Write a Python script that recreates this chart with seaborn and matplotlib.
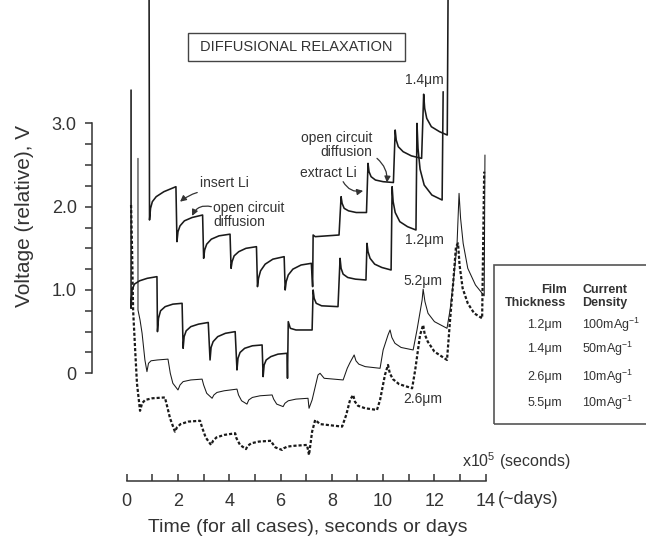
import numpy as np
import pandas as pd
import matplotlib
matplotlib.use("Agg")
import matplotlib.pyplot as plt
from matplotlib.patches import Rectangle
import seaborn as sns

# voltage traces (time in 1e5 s / days, voltage relative)
t_14 = [0.87, 0.89, 0.93, 1.00, 1.15, 1.45, 1.92,
        1.96, 2.00, 2.08, 2.25, 2.55, 2.96,
        3.00, 3.04, 3.12, 3.30, 3.60, 4.03,
        4.07, 4.11, 4.19, 4.37, 4.65, 5.06,
        5.10, 5.14, 5.22, 5.40, 5.70, 6.14,
        6.18, 6.22, 6.30, 6.48, 6.80, 7.20,
        7.25, 7.27, 7.35, 8.28,
        8.36, 8.40, 8.48, 8.65, 8.95, 9.35,
        9.41, 9.45, 9.53, 9.70, 10.00, 10.40,
        10.47, 10.51, 10.59, 10.78, 11.10, 11.50,
        11.58, 11.62, 11.70, 11.88, 12.20, 12.50, 12.54]
v_14 = [5.00, 1.84, 1.98, 2.06, 2.12, 2.18, 2.24,
        1.58, 1.70, 1.77, 1.83, 1.87, 1.90,
        1.38, 1.48, 1.55, 1.61, 1.65, 1.67,
        1.26, 1.34, 1.41, 1.46, 1.50, 1.52,
        1.04, 1.14, 1.23, 1.31, 1.37, 1.40,
        1.00, 1.10, 1.18, 1.25, 1.30, 1.32,
        1.04, 1.66, 1.64, 1.66,
        2.12, 2.04, 1.98, 1.95, 1.93, 1.93,
        2.52, 2.42, 2.36, 2.32, 2.30, 2.29,
        2.92, 2.80, 2.72, 2.66, 2.61, 2.58,
        3.35, 3.18, 3.06, 2.96, 2.90, 2.86, 5.00]

t_12 = [0.17, 0.17, 0.21, 0.30, 0.50, 0.80, 1.18,
        1.20, 1.24, 1.32, 1.50, 1.80, 2.16,
        2.20, 2.24, 2.32, 2.50, 2.80, 3.18,
        3.25, 3.29, 3.37, 3.55, 3.85, 4.23,
        4.30, 4.34, 4.42, 4.60, 4.90, 5.28,
        5.32, 5.36, 5.44, 5.62, 5.90, 6.25,
        6.27, 6.30, 6.38, 6.60, 7.23,
        7.27, 7.31, 7.39, 7.60, 8.24,
        8.32, 8.36, 8.44, 8.62, 8.92, 9.33,
        9.37, 9.41, 9.49, 9.67, 9.95, 10.31,
        10.35, 10.39, 10.47, 10.65, 10.95, 11.28,
        11.32, 11.36, 11.44, 11.60, 11.90, 12.30, 12.34]
v_12 = [3.40, 0.78, 1.00, 1.07, 1.11, 1.14, 1.16,
        0.50, 0.66, 0.75, 0.80, 0.83, 0.84,
        0.30, 0.44, 0.51, 0.56, 0.59, 0.61,
        0.16, 0.31, 0.38, 0.44, 0.48, 0.50,
        0.04, 0.18, 0.25, 0.30, 0.33, 0.34,
        -0.04, 0.10, 0.16, 0.20, 0.23, 0.24,
        -0.06, 0.62, 0.54, 0.52, 0.52,
        1.00, 0.90, 0.84, 0.81, 0.80,
        1.38, 1.26, 1.19, 1.15, 1.13, 1.12,
        1.56, 1.46, 1.38, 1.31, 1.27, 1.24,
        2.24, 2.06, 1.93, 1.82, 1.76, 1.72,
        3.00, 2.70, 2.45, 2.26, 2.14, 2.08, 3.38]

t_52 = [0.44, 0.44, 0.52, 0.60, 0.71, 0.79, 0.85, 0.95, 1.20, 1.61,
        1.70, 1.80, 2.00, 2.08, 2.20, 2.50, 2.94,
        3.00, 3.12, 3.33, 3.40, 3.52, 3.80, 4.30,
        4.36, 4.48, 4.69, 4.76, 4.90, 5.20, 5.67,
        5.73, 5.85, 6.10, 6.17, 6.30, 6.60, 7.07,
        7.11, 7.23, 7.46, 7.54, 7.70, 8.44,
        8.60, 8.71, 8.87, 8.94, 9.05, 9.30, 9.88,
        10.00, 10.19, 10.27, 10.34, 10.46, 10.70, 11.17,
        11.32, 11.52, 11.56, 11.63, 11.75, 12.00, 12.49,
        12.61, 12.73, 12.88, 12.96, 13.02, 13.12, 13.30, 13.60, 13.94, 13.97]
v_52 = [2.58, 0.76, 0.64, 0.48, 0.16, 0.02, 0.12, 0.15, 0.16, 0.17,
        0.00, -0.12, -0.20, -0.14, -0.10, -0.08, -0.07,
        -0.14, -0.24, -0.30, -0.26, -0.23, -0.21, -0.19,
        -0.26, -0.33, -0.37, -0.32, -0.29, -0.27, -0.26,
        -0.31, -0.37, -0.40, -0.36, -0.33, -0.31, -0.30,
        -0.42, -0.32, -0.02, 0.00, -0.06, -0.08,
        0.06, 0.13, 0.22, 0.15, 0.11, 0.08, 0.06,
        0.28, 0.46, 0.52, 0.43, 0.36, 0.31, 0.28,
        0.52, 0.88, 1.01, 0.86, 0.72, 0.62, 0.54,
        0.76, 1.08, 1.54, 2.16, 1.86, 1.56, 1.26, 1.06, 0.93, 2.62]

t_26 = [0.17, 0.21, 0.25, 0.33, 0.40, 0.52, 0.60, 0.72, 1.00, 1.49,
        1.58, 1.69, 1.88, 1.96, 2.10, 2.40, 2.86,
        2.94, 3.08, 3.29, 3.37, 3.50, 3.80, 4.23,
        4.28, 4.42, 4.65, 4.72, 4.86, 5.15, 5.63,
        5.68, 5.80, 6.06, 6.13, 6.26, 6.55, 7.03,
        7.11, 7.23, 7.35, 7.54, 8.40,
        8.56, 8.71, 8.83, 8.90, 9.02, 9.30, 9.76,
        9.88, 10.07, 10.19, 10.26, 10.38, 10.62, 11.13,
        11.25, 11.44, 11.56, 11.62, 11.74, 12.00, 12.49,
        12.61, 12.73, 12.84, 12.92, 12.98, 13.10, 13.30, 13.55, 13.86, 13.94]
v_26 = [2.02, 1.48, 0.76, 0.28, -0.12, -0.45, -0.36, -0.32, -0.30, -0.29,
        -0.40, -0.54, -0.70, -0.65, -0.61, -0.58, -0.57,
        -0.65, -0.77, -0.86, -0.81, -0.77, -0.74, -0.72,
        -0.78, -0.86, -0.91, -0.87, -0.84, -0.82, -0.81,
        -0.84, -0.89, -0.92, -0.90, -0.88, -0.87, -0.86,
        -0.98, -0.70, -0.56, -0.61, -0.64,
        -0.50, -0.32, -0.26, -0.34, -0.39, -0.42, -0.44,
        -0.32, -0.02, 0.10, 0.00, -0.07, -0.13, -0.18,
        0.04, 0.46, 0.58, 0.47, 0.38, 0.26, 0.16,
        0.64, 1.08, 1.52, 1.56, 1.30, 1.02, 0.84, 0.72, 0.66, 2.42]

curve_labels = ["1.4\u03bcm", "1.2\u03bcm", "5.2\u03bcm", "2.6\u03bcm"]
film_thickness = ["1.2\u03bcm", "1.4\u03bcm", "2.6\u03bcm", "5.5\u03bcm"]
current_density = ["100mAg$^{-1}$", "50mAg$^{-1}$", "10mAg$^{-1}$", "10mAg$^{-1}$"]

sns.set_style("ticks")
plt.rcParams["font.family"] = ["Liberation Sans", "DejaVu Sans"]
plt.rcParams["mathtext.fontset"] = "custom"
plt.rcParams["mathtext.rm"] = "Liberation Sans"
plt.rcParams["mathtext.it"] = "Liberation Sans:italic"

ink = "#1a1a1a"
txt = "#333333"

fig = plt.figure(figsize=(6.46, 5.40), dpi=100)
ax = fig.add_axes([92 / 646, 59 / 540, 554 / 646, 481 / 540])

traces = [(t_14, v_14, "-", 1.15), (t_12, v_12, "-", 1.15),
          (t_52, v_52, "-", 0.75), (t_26, v_26, (0, (1.4, 0.9)), 1.6)]
for t, v, ls, lw in traces:
    df = pd.DataFrame({"time": t, "volt": v})
    sns.lineplot(data=df, x="time", y="volt", sort=False, estimator=None,
                 color=ink, linewidth=lw, linestyle=ls, ax=ax)

ax.set_xlim(-1.353, 20.25)
ax.set_ylim(-1.293, 4.481)
ax.set_xlabel("")
ax.set_ylabel("")

ax.set_xticks(range(0, 15, 2))
ax.set_xticks(range(1, 14, 2), minor=True)
ax.set_yticks([0, 1, 2, 3])
ax.set_yticklabels(["0", "1.0", "2.0", "3.0"])
ax.set_yticks([0.25, 0.5, 0.75, 1.25, 1.5, 1.75, 2.25, 2.5, 2.75], minor=True)
ax.tick_params(axis="x", which="both", direction="in", length=5, width=1.1,
               color=txt, labelsize=13, labelcolor=txt, pad=9)
ax.tick_params(axis="y", which="both", direction="out", length=5, width=1.1,
               color=txt, labelsize=13, labelcolor=txt, pad=6)
for side in ["top", "right"]:
    ax.spines[side].set_visible(False)
ax.spines["left"].set_bounds(0, 3)
ax.spines["bottom"].set_bounds(0, 14)
for side in ["left", "bottom"]:
    ax.spines[side].set_linewidth(1.1)
    ax.spines[side].set_color(txt)

fig.text(25 / 646, 1 - 216 / 540, "Voltage (relative), V", rotation=90,
         ha="center", va="center", fontsize=15, color=txt)
fig.text(308 / 646, 1 - 528 / 540, "Time (for all cases), seconds or days",
         ha="center", va="center", fontsize=14, color=txt)
ax.text(14.48, -1.52, "(~days)", ha="left", va="center", fontsize=13, color=txt)
ax.text(13.08, -1.12, "x10$^5$ (seconds)", ha="left", va="baseline", fontsize=11.5, color=txt)

# title box
ax.add_patch(Rectangle((2.39, 3.75), 8.46, 0.335, fill=False, ec="#444444", lw=1.0))
ax.text(6.62, 3.917, "DIFFUSIONAL RELAXATION", ha="center", va="center",
        fontsize=10.5, color=txt)

# annotations
arrow = dict(arrowstyle="-|>", color=txt, lw=0.9, mutation_scale=9, shrinkA=0, shrinkB=0)
ax.text(2.87, 2.29, "insert Li", ha="left", va="center", fontsize=10, color=txt)
ax.annotate("", xy=(2.08, 2.06), xytext=(2.75, 2.17),
            arrowprops=dict(arrow, connectionstyle="arc3,rad=0.1"))
ax.text(3.37, 1.90, "open circuit\ndiffusion", ha="left", va="center", fontsize=10,
        color=txt, linespacing=0.95)
ax.annotate("", xy=(2.55, 1.89), xytext=(3.30, 2.00),
            arrowprops=dict(arrow, connectionstyle="arc3,rad=0.4"))
ax.text(9.57, 2.74, "open circuit\ndiffusion", ha="right", va="center", fontsize=10,
        color=txt, linespacing=0.95, multialignment="right")
ax.annotate("", xy=(10.15, 2.29), xytext=(9.76, 2.58),
            arrowprops=dict(arrow, connectionstyle="arc3,rad=-0.25"))
ax.text(6.77, 2.41, "extract Li", ha="left", va="center", fontsize=10, color=txt)
ax.annotate("", xy=(9.22, 2.19), xytext=(8.44, 2.30),
            arrowprops=dict(arrow, connectionstyle="arc3,rad=0.35"))

label_pos = [(11.60, 3.52), (11.60, 1.60), (11.56, 1.11), (11.56, -0.31)]
for lab, (x, y) in zip(curve_labels, label_pos):
    ax.text(x, y, lab, ha="center", va="center", fontsize=10, color=txt)

# legend table box
ax.add_patch(Rectangle((14.33, -0.61), 7.0, 1.91, fill=False, ec="#555555", lw=1.2))
ax.text(17.15, 1.00, "Film", ha="right", va="center", fontsize=9,
        fontweight="bold", color=txt)
ax.text(17.15, 0.845, "Thickness", ha="right", va="center", fontsize=9,
        fontweight="bold", color=txt)
ax.text(17.76, 1.00, "Current", ha="left", va="center", fontsize=9,
        fontweight="bold", color=txt)
ax.text(17.76, 0.845, "Density", ha="left", va="center", fontsize=9,
        fontweight="bold", color=txt)
row_y = [0.58, 0.29, -0.045, -0.36]
for th, cd, y in zip(film_thickness, current_density, row_y):
    ax.text(16.98, y, th, ha="right", va="center", fontsize=9, color=txt)
    ax.text(17.76, y, cd, ha="left", va="center", fontsize=9, color=txt)

fig.savefig("out.png", dpi=100)
